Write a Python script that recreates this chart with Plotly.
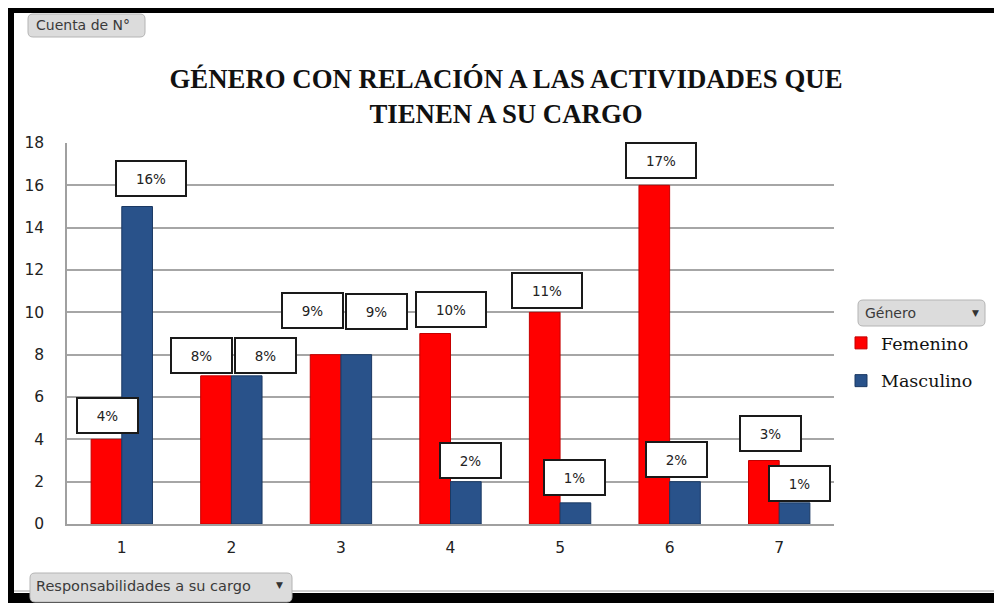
import plotly.graph_objects as go

# ---- data ----
categories = ["1", "2", "3", "4", "5", "6", "7"]
femenino = [4, 7, 8, 9, 10, 16, 3]
masculino = [15, 7, 8, 2, 1, 2, 1]
labels_f = ["4%", "8%", "9%", "10%", "11%", "17%", "3%"]
labels_m = ["16%", "8%", "9%", "2%", "1%", "2%", "1%"]
y_ticks = [0, 2, 4, 6, 8, 10, 12, 14, 16, 18]

title_text = "GÉNERO CON RELACIÓN A LAS ACTIVIDADES QUE<br>TIENEN A SU CARGO"

# ---- label placement (pixel offsets from bar-group centre / bar top) ----
f_dx = [-14, -30, -28, 0, -13, -9, -9]
f_dy = [24, 20, 44, 24, 22, 25, 27]
m_dx = [29, 34, 36, 20, 14, 7, 20]
m_dy = [28, 20, 43, 21, 25, 22, 19]

OFF = 8  # page body margin
W, H = 1002 - OFF, 603 - OFF
L, R, T, B = 67, 834, 143, 524  # plot area in page px


def px(x):
    return (x - L) / (R - L)


def py(y):
    return (B - y) / (B - T)


fig = go.Figure()
fig.add_trace(go.Bar(
    x=categories, y=femenino, name="Femenino", legendgroup="f",
    marker=dict(color="#ff0000", line=dict(color="#c40000", width=1)),
))
fig.add_trace(go.Bar(
    x=categories, y=masculino, name="Masculino", legendgroup="m",
    marker=dict(color="#29528a", line=dict(color="#1b3963", width=1)),
))

annotations = []


def box_label(idx, val, text, dx, dy):
    w = 63 if len(text) <= 2 else 72
    annotations.append(dict(
        x=idx, y=val, xref="x", yref="y", text=text, showarrow=False,
        xshift=dx, yshift=dy, width=w - 4, height=33,
        bgcolor="white", bordercolor="#1a1a1a", borderwidth=2, borderpad=0,
        font=dict(family="DejaVu Sans", size=13.5, color="#222"),
    ))


for i in range(len(categories)):
    box_label(i, femenino[i], labels_f[i], f_dx[i], f_dy[i])
    box_label(i, masculino[i], labels_m[i], m_dx[i], m_dy[i])

shapes = []
# outer black frame
shapes.append(dict(type="rect", xref="paper", yref="paper", x0=px(0), x1=px(1010), y0=py(-10), y1=py(13),
                   fillcolor="black", line=dict(width=0), layer="above"))
shapes.append(dict(type="rect", xref="paper", yref="paper", x0=px(-10), x1=px(14), y0=py(-10), y1=py(610),
                   fillcolor="black", line=dict(width=0), layer="above"))
shapes.append(dict(type="rect", xref="paper", yref="paper", x0=px(-10), x1=px(1010), y0=py(593), y1=py(610),
                   fillcolor="black", line=dict(width=0), layer="above"))
# thin grey chart-area edges
shapes.append(dict(type="line", xref="paper", yref="paper", x0=px(1000), x1=px(1000), y0=py(13), y1=py(591),
                   line=dict(color="#b8b8b8", width=1.5)))
shapes.append(dict(type="line", xref="paper", yref="paper", x0=px(14), x1=px(1000), y0=py(591), y1=py(591),
                   line=dict(color="#c0c0c0", width=1.5)))


def button(x0, y0, x1, y1):
    r = 5
    path = (f"M {px(x0 + r)} {py(y0)} L {px(x1 - r)} {py(y0)} Q {px(x1)} {py(y0)} {px(x1)} {py(y0 + r)} "
            f"L {px(x1)} {py(y1 - r)} Q {px(x1)} {py(y1)} {px(x1 - r)} {py(y1)} "
            f"L {px(x0 + r)} {py(y1)} Q {px(x0)} {py(y1)} {px(x0)} {py(y1 - r)} "
            f"L {px(x0)} {py(y0 + r)} Q {px(x0)} {py(y0)} {px(x0 + r)} {py(y0)} Z")
    shapes.append(dict(type="path", xref="paper", yref="paper", path=path,
                       fillcolor="#dcdcdc", line=dict(color="#b4b4b4", width=1)))


button(28, 14, 145, 37)
button(858, 300, 985, 326)
button(30, 573, 292, 602)

annotations.append(dict(x=px(34), y=py(25.5), xref="paper", yref="paper", text="Cuenta de N°",
                        showarrow=False, xanchor="left", yanchor="middle",
                        font=dict(family="DejaVu Sans", size=14, color="#3a3a3a")))
annotations.append(dict(x=px(863), y=py(313), xref="paper", yref="paper", text="Género",
                        showarrow=False, xanchor="left", yanchor="middle",
                        font=dict(family="DejaVu Sans", size=14, color="#3a3a3a")))
annotations.append(dict(x=px(975), y=py(313), xref="paper", yref="paper", text="▼",
                        showarrow=False, xanchor="center", yanchor="middle",
                        font=dict(family="DejaVu Sans", size=9, color="#333")))
annotations.append(dict(x=px(34), y=py(586), xref="paper", yref="paper", text="Responsabilidades a su cargo",
                        showarrow=False, xanchor="left", yanchor="middle",
                        font=dict(family="DejaVu Sans", size=14.5, color="#3a3a3a")))
annotations.append(dict(x=px(279), y=py(585), xref="paper", yref="paper", text="▼",
                        showarrow=False, xanchor="center", yanchor="middle",
                        font=dict(family="DejaVu Sans", size=9, color="#333")))

fig.update_layout(
    width=W, height=H,
    margin=dict(l=L - OFF, r=W - (R - OFF), t=T - OFF, b=H - (B - OFF), pad=0),
    paper_bgcolor="white", plot_bgcolor="white",
    barmode="group", bargap=0.44, bargroupgap=0,
    title=dict(text="<b>" + title_text + "</b>", x=(506 - OFF) / W, xref="container", xanchor="center",
               y=1 - (88 - OFF) / H, yref="container", yanchor="middle",
               font=dict(family="Liberation Serif", size=26.8, color="#111")),
    xaxis=dict(type="category", range=[-0.5, 6.5], autorange=False, showgrid=False, showline=True,
               linecolor="#a0a0a0", linewidth=1.5,
               tickfont=dict(family="DejaVu Sans", size=15.5, color="#222"), ticks="", ticklabelstandoff=9),
    yaxis=dict(range=[0, 18], autorange=False, tickvals=y_ticks, showgrid=True, gridcolor="#a6a6a6", gridwidth=1.5,
               showline=True, linecolor="#a0a0a0", linewidth=1.5, zeroline=False,
               tickfont=dict(family="DejaVu Sans", size=15.5, color="#222"), ticks="", ticklabelstandoff=18),
    legend=dict(x=px(841), y=py(325), xanchor="left", yanchor="top", xref="paper", yref="paper",
                bgcolor="rgba(0,0,0,0)", borderwidth=0, tracegroupgap=12, traceorder="grouped",
                itemwidth=30, font=dict(family="DejaVu Serif", size=17.5, color="#111")),
    showlegend=True,
    annotations=annotations,
    shapes=shapes,
)

fig.write_html("out.html")
